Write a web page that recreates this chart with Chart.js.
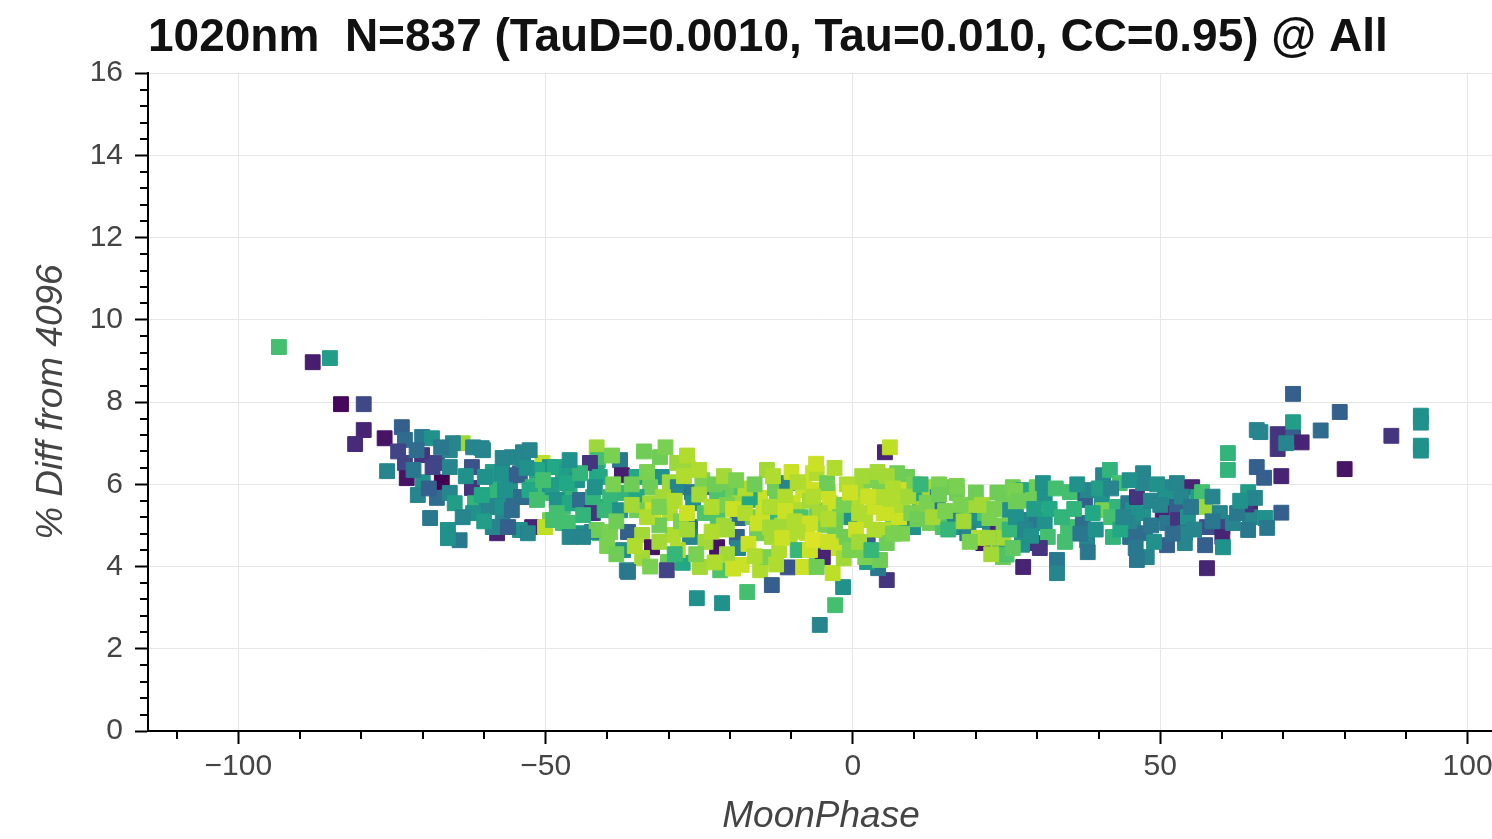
<!DOCTYPE html>
<html>
<head>
<meta charset="utf-8">
<title>1020nm MoonPhase scatter</title>
<script src="https://cdn.jsdelivr.net/npm/chart.js@4/dist/chart.umd.min.js"></script>
<style>
  html, body { margin: 0; padding: 0; background: #fff; overflow: hidden; }
  canvas { display: block; }
</style>
</head>
<body>
<canvas id="chart" width="1520" height="839"></canvas>
<script>
// values
const moonPhase = [
  -93.4, -87.9, -85.1, -83.3, -79.6, -79.6, -81.0, -76.2, -75.8, -73.4,
  -72.9, -70.1, -68.5, -70.1, -72.9, -72.6, -67.7, -65.6, -63.5, -61.8,
  -60.2, -62.0, -66.9, -70.0, -70.8, -67.7, -65.6, -64.8, -62.0, -61.5,
  -68.8, -65.9, -64.0, -65.9, -58.6, -57.9, -55.5, -53.7, -54.2, -55.8,
  -57.9, -57.0, -57.9, -57.9, -53.7, -52.6, -53.7, -52.2, -50.5, -49.3,
  -51.4, -50.4, -49.3, -47.2, -46.1, -44.9, -47.2, -49.3, -47.2, -44.9,
  -41.7, -41.5, -41.7, -37.9, -37.6, -37.4, -40.7, -41.2, -42.3, -37.4,
  -36.8, -65.6, -60.4, -58.6, -57.1, -54.7, -51.4, -48.5, -46.5, -44.9,
  -42.8, -57.9, -55.3, -52.6, -51.4, -49.0, -48.2, -46.1, -44.4, -42.3,
  -57.9, -58.6, -54.2, -50.1, -48.8, -46.4, -42.5, -42.5, -41.2, -35.2,
  -31.4, -31.1, -28.6, -26.9, -33.0, -29.8, -28.5, -26.2, -23.6, -20.0,
  -18.1, -14.0, -15.1, -12.7, -10.7, -8.1, -6.5, -42.0, -39.5, -35.2,
  -33.0, -30.9, -26.0, -22.1, -18.4, -16.8, -12.4, -9.8, -40.4, -37.9,
  -35.2, -32.5, -29.8, -26.5, -24.1, -22.0, -18.7, -16.3, -14.6, -12.2,
  -9.1, -5.9, -41.7, -39.5, -36.6, -34.3, -32.7, -29.3, -26.5, -22.1,
  -18.9, -18.7, -15.6, -13.2, -10.3, -7.5, -34.3, -30.1, -30.3, -27.7,
  -24.9, -21.6, -18.1, -15.1, -14.0, -10.6, -8.1, -5.9, -36.6, -25.4,
  -21.3, -17.2, -13.2, -5.4, -2.9, -1.6, -3.3, 5.5, 4.1, 2.3,
  -39.0, -36.0, -33.5, -27.5, -24.5, -22.5, -20.5, -17.5, -16.0, -11.0,
  -8.0, -7.0, -4.0, -3.5, -28.0, -31.5, -20.5, -11.5, -8.5, -4.5,
  -2.5, -24.0, -12.0, -9.0, 5.2, 6.0, -5.9, -5.9, -4.2, -3.7,
  -5.4, -2.1, -0.2, -5.4, -2.9, -2.6, -1.0, -4.9, -5.9, 2.0,
  3.3, 2.4, 2.0, 4.4, 4.4, 4.7, 7.2, 8.8, 8.8, 7.2,
  6.5, 8.8, 4.9, 5.5, 10.4, 10.9, 9.8, 12.5, 13.8, 13.7,
  12.5, 15.3, 16.9, 16.3, 14.6, 16.9, 18.6, 20.2, 18.6, 21.5,
  22.3, 21.2, 23.6, 23.9, 24.4, 25.5, 24.4, 26.0, 27.7, 28.3,
  27.7, 27.7, 29.9, 29.9, 0.5, 1.5, 3.0, 5.5, 6.5, 10.0,
  11.5, 14.0, 8.0, 0.5, 16.9, 16.6, 18.8, 22.2, 25.6, 26.4,
  25.0, 27.5, 28.7, 19.5, 20.5, 22.5, 24.5, 26.5, 30.9, 29.3,
  31.2, 29.9, 31.2, 31.7, 30.4, 33.2, 33.2, 35.3, 35.0, 37.8,
  38.2, 37.4, 38.1, 38.2, 40.7, 41.8, 40.5, 40.7, 43.0, 43.4,
  42.3, 44.8, 45.6, 46.2, 45.6, 45.1, 47.2, 47.2, 47.2, 47.5,
  47.8, 46.2, 50.8, 51.1, 50.4, 51.1, 51.1, 52.7, 52.7, 52.9,
  54.0, 54.0, 55.2, 56.1, 56.8, 57.3, 57.6, 57.3, 57.6, 59.7,
  60.1, 60.1, 60.2, 61.8, 61.0, 61.0, 64.6, 64.3, 64.6, 64.3,
  65.7, 65.7, 71.6, 79.2, 87.6, 92.4, 92.4, 92.4, 92.4, 80.0,
  76.1, 71.6, 71.6, 73.0, 69.1, 69.1, 66.3, 66.9, 69.7, 69.7,
  67.1, 67.4, 64.0, 65.4, 70.5,
  -65.1, -68.4, -71.0, -59.9, -56.6, -57.0, -53.7, -53.1, -59.6, -61.8,
  -60.4, -55.5, -56.1, -52.9, -46.1, -43.9, -48.2, -43.9, -50.4, -46.5,
  -44.4, -46.1, -52.6, -63.0, -63.5, -60.0, -69.0, -74.0, -71.5, -67.0,
  -39.2, -34.0, -30.5, -27.0, -25.0, -21.0, -19.0, -13.0, -10.0, -9.0,
  -6.0, -3.0, -38.5, -36.0, -33.5, -31.5, -29.0, -27.0, -25.0, -23.0,
  -21.0, -19.5, -17.5, -15.5, -13.5, -11.0, -9.5, -7.0, -6.5, -4.0,
  -1.5, -40.0, -38.5, -35.5, -31.5, -28.5, -27.0, -25.5, -23.0, -20.5,
  -17.0, -16.0, -13.5, -11.5, -9.0, -7.0, -6.5, -4.0, -1.5, -0.5,
  -33.0, -29.0, -22.5, -19.5, -12.5, 1.0, 2.5, 3.5, 4.0, 5.0,
  6.0, 6.5, 7.5, 8.0, 9.0, 9.5, 10.5, 11.0, 12.0, 13.0,
  14.0, 15.0, 15.5, 1.0, 3.0, 1.5, -1.0, -0.5, 17.5, 18.0,
  19.0, 20.0, 21.0, 22.0, 23.0, 23.5, 24.5, 25.5, 26.5, 27.0,
  28.0, 29.0, 29.5, 26.0, 32.0, 33.0, 34.0, 34.5, 36.0, 36.5,
  37.0, 39.0, 39.5, 40.0, 42.0, 42.0, 43.5, 44.0, 45.0, 46.0,
  48.5, 48.5, 49.0, 49.5, 50.0, 52.0, 53.5, 54.5, 55.0, 55.5,
  58.5, 58.5, 62.5, 63.0
];
const pctDiff = [
  9.34, 8.97, 9.07, 7.95, 7.95, 7.32, 6.98, 7.12, 6.32, 7.39,
  7.08, 7.15, 7.12, 6.71, 6.52, 6.15, 6.52, 6.83, 7.0, 6.9,
  6.83, 6.42, 6.05, 6.05, 5.74, 5.67, 5.79, 5.54, 5.91, 5.54,
  5.18, 4.89, 4.64, 4.69, 6.18, 5.93, 6.66, 6.78, 6.27, 5.93,
  5.54, 5.3, 4.96, 4.81, 5.69, 5.93, 4.89, 4.96, 6.52, 6.42,
  6.1, 5.79, 5.93, 6.1, 5.79, 5.54, 5.45, 5.13, 5.06, 4.81,
  6.9, 6.59, 6.27, 6.59, 6.22, 5.79, 5.45, 4.81, 5.3, 4.4,
  3.91, 6.42, 6.88, 6.3, 6.27, 6.22, 6.35, 6.42, 6.3, 6.1,
  6.52, 5.86, 5.69, 5.86, 5.62, 5.98, 5.62, 5.54, 5.62, 5.69,
  5.45, 4.96, 4.89, 4.96, 5.13, 5.06, 5.3, 4.84, 6.18, 6.18,
  6.66, 6.18, 6.52, 6.42, 5.93, 6.05, 5.93, 5.81, 5.93, 5.86,
  5.81, 6.35, 5.67, 5.91, 6.03, 5.86, 6.27, 5.93, 5.69, 5.69,
  5.54, 5.69, 5.54, 5.67, 5.54, 5.62, 5.54, 5.54, 5.37, 5.37,
  5.37, 5.37, 5.3, 4.96, 5.3, 5.2, 5.18, 5.2, 5.3, 5.2,
  5.37, 5.37, 4.89, 4.84, 4.84, 4.77, 4.47, 4.77, 4.72, 4.47,
  4.72, 4.45, 4.81, 4.72, 4.72, 4.81, 4.21, 4.11, 3.91, 4.09,
  3.99, 3.91, 4.04, 3.91, 4.23, 3.98, 3.99, 4.16, 3.87, 3.23,
  3.11, 3.38, 3.55, 2.58, 3.06, 3.5, 3.84, 3.67, 3.96, 4.11,
  6.0, 6.0, 6.3, 6.2, 6.1, 6.0, 5.5, 5.9, 6.0, 5.7,
  6.0, 5.6, 5.8, 5.4, 5.1, 5.0, 4.9, 5.0, 5.2, 5.0,
  4.6, 4.6, 4.4, 4.4, 6.78, 6.9, 6.27, 5.86, 6.03, 5.54,
  5.3, 5.2, 5.2, 4.57, 4.89, 4.45, 4.72, 4.23, 3.99, 5.13,
  5.45, 4.57, 4.23, 4.16, 5.86, 5.69, 6.27, 6.18, 5.86, 5.54,
  5.13, 5.06, 4.89, 4.57, 5.79, 5.62, 4.96, 5.93, 5.69, 5.37,
  5.06, 5.93, 5.79, 5.2, 4.96, 4.96, 5.37, 5.13, 4.81, 5.3,
  4.89, 4.57, 4.89, 4.47, 5.62, 5.37, 4.23, 5.93, 5.86, 5.13,
  4.64, 3.99, 4.57, 5.93, 5.6, 5.9, 6.1, 6.2, 5.9, 6.0,
  5.4, 6.0, 4.8, 4.9, 5.96, 5.1, 4.82, 5.18, 5.35, 5.84,
  4.29, 4.53, 5.1, 5.5, 4.7, 4.3, 5.0, 5.5, 6.03, 5.62,
  5.69, 5.13, 5.06, 4.72, 4.45, 4.16, 3.84, 5.81, 4.96, 5.62,
  5.86, 5.06, 4.64, 4.35, 6.22, 6.35, 5.62, 5.37, 5.45, 6.03,
  4.72, 5.54, 5.37, 5.69, 5.06, 4.72, 6.27, 6.03, 5.3, 4.81,
  4.23, 4.16, 5.93, 5.69, 5.3, 5.06, 4.52, 6.03, 5.45, 5.13,
  4.81, 4.57, 5.93, 5.69, 5.81, 5.45, 4.96, 4.52, 3.96, 5.3,
  4.96, 4.72, 4.47, 5.06, 6.76, 6.35, 5.54, 5.81, 5.2, 4.89,
  7.32, 6.42, 8.2, 7.76, 7.18, 7.67, 7.5, 6.94, 6.82, 6.37,
  7.31, 7.51, 7.14, 7.02, 7.22, 6.86, 7.27, 6.16, 6.2, 5.31,
  5.18, 4.94, 5.51, 5.67, 7.0,
  7.0, 6.42, 6.83, 6.18, 5.86, 6.64, 6.6, 6.4, 5.45, 5.3,
  5.74, 5.37, 4.96, 4.81, 4.72, 4.72, 5.3, 5.25, 6.1, 6.03,
  6.27, 6.59, 6.83, 6.2, 5.2, 5.1, 5.9, 6.8, 6.35, 6.9,
  6.7, 6.8, 6.9, 6.7, 6.35, 6.2, 6.1, 6.2, 6.3, 6.05,
  6.5, 6.4, 5.1, 5.5, 5.2, 5.45, 5.6, 5.3, 5.75, 5.45,
  5.0, 5.4, 5.3, 5.05, 5.45, 5.35, 5.1, 5.05, 5.7, 5.15,
  5.5, 4.5, 4.3, 4.5, 4.6, 4.4, 4.9, 4.3, 4.85, 4.3,
  4.55, 4.25, 4.95, 4.7, 4.85, 4.4, 4.65, 4.6, 4.2, 4.4,
  4.0, 4.3, 4.1, 3.95, 4.05, 5.3, 5.7, 4.9, 6.3, 5.3,
  5.65, 4.8, 5.2, 5.5, 5.7, 5.3, 5.15, 6.0, 5.55, 5.2,
  5.75, 5.35, 4.9, 4.6, 4.4, 6.2, 6.0, 5.8, 5.5, 5.1,
  4.6, 5.8, 5.5, 4.7, 5.4, 5.8, 4.7, 4.9, 5.2, 5.6,
  4.9, 4.75, 5.4, 4.45, 5.4, 5.9, 5.2, 4.6, 5.4, 6.0,
  4.8, 5.3, 4.9, 5.9, 5.2, 5.9, 4.9, 5.2, 6.1, 4.45,
  5.6, 5.0, 4.6, 6.0, 5.5, 4.8, 5.7, 5.2, 5.45, 4.9,
  5.7, 5.1, 5.3, 5.6
];
// colour value of each point (0 = dark purple .. 1 = yellow)
const colorLevel = [
  .7, .08, .55, .02, .22, .1, .12, .05, .45, .3,
  .35, .4, .5, .15, .2, .05, .2, .45, .85, .45,
  .45, .25, 0, .5, .45, .35, .45, .55, .15, .65,
  .4, .5, .4, .5, .6, .55, .45, .45, .3, .5,
  .45, .45, .4, .1, .35, .65, .5, .1, .9, .5,
  .65, .7, .5, .6, .65, .35, .7, .8, .7, .5,
  .85, .7, .6, .4, .08, .65, .6, .7, .4, .5,
  .45, .45, .45, .55, .5, .3, .6, .6, .55, .5,
  .15, .65, .35, .6, .7, .55, .5, .6, .35, .65,
  .5, .45, .5, .9, .7, .7, .15, .45, .6, .6,
  .78, .5, .85, .85, .78, .85, .45, .4, .3, .78,
  .72, .86, .92, .78, .45, .92, .92, .5, .66, .6,
  .86, .86, .5, .72, .86, .6, .78, .92, .66, .5,
  .78, .92, .88, .35, .72, .72, .35, .78, .92, .66,
  .88, .78, .78, .8, .3, .86, .05, .88, .45, .05,
  .3, .45, .78, .86, .88, .92, .86, .78, .2, .6,
  .86, .72, .92, .88, .8, .25, .92, .78, .4, .5,
  .5, .7, .3, .45, .7, .5, .9, .15, .4, .55,
  .8, .78, .8, .88, .8, .78, .8, .88, .78, .88,
  .92, .86, .92, .88, .8, .78, .86, .86, .72, .8,
  .88, .86, .88, .66, .1, .9, .88, .92, .78, .92,
  .86, .78, .5, .5, .78, .92, .78, .1, .78, .88,
  .92, .3, .8, .78, .8, .88, .78, .78, .92, .92,
  .78, .6, .88, .78, .78, .6, .5, .86, .4, .35,
  .78, .78, .78, .4, .72, .5, .78, .5, .4, .72,
  .45, .05, .1, .5, .78, .45, .78, .78, .6, .35,
  .5, .1, .15, .78, .88, .86, .8, .86, .88, .8,
  .86, .8, .8, .92, .8, .45, .45, .8, .5, .8,
  .72, .5, .45, .86, .88, .86, .8, .78, .5, .78,
  .5, .4, .5, .7, .15, .4, .45, .7, .7, .3,
  .45, .35, .45, .4, .45, .65, .5, .8, .65, .7,
  .65, .4, .5, .15, .45, .35, .45, .45, .5, .35,
  .45, .4, .45, .5, .1, .4, .3, .45, .3, .15,
  .45, .45, .1, .55, .7, .85, .25, .3, .1, .45,
  .2, .1, .5, .45, .65, .65, .1, .55, .45, .4,
  .45, .3, .3, .3, .15, .5, .5, .5, .5, .05,
  .35, .55, .3, .1, .15, .15, .45, .3, .1, .3,
  .5, .4, .15, .45, .45,
  .45, .2, .35, .5, .5, .45, .45, .5, .45, .5,
  .6, .35, .3, .45, .45, .45, .7, .65, .7, .6,
  .65, .5, .45, .5, .45, .55, .3, .2, .4, .4,
  .8, .78, .8, .88, .88, .86, .8, .88, .92, .88,
  .92, .88, .78, .86, .88, .8, .88, .92, .86, .88,
  .86, .92, .88, .92, .88, .92, .88, .92, .88, .88,
  .8, .8, .78, .88, .86, .88, .86, .8, .88, .86,
  .92, .88, .86, .92, .88, .92, .95, .92, .86, .8,
  .8, .66, .88, .92, .88, .88, .92, .88, .86, .92,
  .88, .8, .92, .88, .86, .8, .78, .66, .8, .86,
  .78, .8, .66, .86, .66, .86, .88, .92, .8, .86,
  .8, .78, .86, .86, .8, .78, .86, .66, .5, .78,
  .45, .5, .55, .75, .6, .7, .65, .7, .65, .5,
  .4, .6, .5, .55, .7, .45, .6, .45, .5, .4,
  .45, .4, .5, .5, .45, .35, .45, .5, .4, .45,
  .45, .4, .4, .5
];

const xTicks = [-100, -50, 0, 50, 100];
const yTicks = [0, 2, 4, 6, 8, 10, 12, 14, 16];
const titleText = '1020nm  N=837 (TauD=0.0010, Tau=0.010, CC=0.95) @ All';

const FONT = "'Liberation Sans', Arial, Helvetica, sans-serif";

// viridis colour map
const viridisStops = ['#440154', '#482475', '#414487', '#355f8d', '#2a788e',
  '#21918c', '#22a884', '#44bf70', '#7ad151', '#bddf26', '#fde725'];
function viridis(t) {
  t = Math.max(0, Math.min(1, t));
  const f = t * (viridisStops.length - 1);
  const i = Math.min(Math.floor(f), viridisStops.length - 2);
  const k = f - i;
  const a = viridisStops[i], b = viridisStops[i + 1];
  const ch = (h, o) => parseInt(h.substr(o, 2), 16);
  const mix = o => Math.round(ch(a, o) + (ch(b, o) - ch(a, o)) * k);
  return `rgb(${mix(1)},${mix(3)},${mix(5)})`;
}

const points = moonPhase.map((x, i) => ({ x: x, y: pctDiff[i] }));
const colors = colorLevel.map(viridis);

// minor ticks: 5 intervals per major step
function minorsFrom(majors, lo, hi) {
  const out = [];
  const step = (majors[1] - majors[0]) / 5;
  for (let v = majors[0] - 5 * step; v <= majors[majors.length - 1] + 5 * step + 1e-9; v += step) {
    const r = Math.round(v * 1000) / 1000;
    if (r < lo || r > hi) continue;
    if (majors.some(m => Math.abs(m - r) < 1e-6)) continue;
    out.push(r);
  }
  return out;
}

const X_MIN = -114.7, X_MAX = 104.3;
const xMinor = minorsFrom(xTicks, X_MIN, X_MAX);
const yMinor = minorsFrom(yTicks, 0, 16);

const minorTicks = {
  id: 'minorTicks',
  afterDraw(chart) {
    const { ctx, chartArea, scales: { x, y } } = chart;
    ctx.save();
    ctx.strokeStyle = '#000';
    ctx.lineWidth = 2;
    ctx.beginPath();
    xMinor.forEach(v => {
      const px = Math.round(x.getPixelForValue(v));
      ctx.moveTo(px, chartArea.bottom);
      ctx.lineTo(px, chartArea.bottom + 8);
    });
    yMinor.forEach(v => {
      const py = Math.round(y.getPixelForValue(v));
      ctx.moveTo(chartArea.left, py);
      ctx.lineTo(chartArea.left - 8, py);
    });
    ctx.stroke();
    ctx.restore();
  }
};

const fmt = v => (v < 0 ? '\u2212' + Math.abs(v) : String(v));

new Chart(document.getElementById('chart').getContext('2d'), {
  type: 'scatter',
  data: {
    datasets: [{
      data: points,
      pointStyle: 'rect',
      pointRadius: 10.5,
      pointHoverRadius: 10.5,
      pointBackgroundColor: colors,
      pointBorderColor: colors,
      pointBorderWidth: 1
    }]
  },
  options: {
    responsive: false,
    animation: false,
    devicePixelRatio: 1,
    layout: { padding: { left: 0, top: 0, right: 26, bottom: 0 } },
    plugins: {
      legend: { display: false },
      tooltip: { enabled: false },
      title: {
        display: true,
        text: titleText,
        align: 'start',
        fullSize: false,
        color: '#111',
        font: { family: FONT, size: 46, weight: 'bold' },
        padding: { top: 11, bottom: 7 }
      }
    },
    scales: {
      x: {
        type: 'linear',
        min: X_MIN,
        max: X_MAX,
        afterBuildTicks: s => { s.ticks = xTicks.map(v => ({ value: v })); },
        afterFit: s => { s.height = 108; },
        ticks: {
          callback: fmt, color: '#444', padding: 5, maxRotation: 0, autoSkip: false,
          font: { family: FONT, size: 30 }
        },
        grid: { color: '#e6e6e6', lineWidth: 1, tickColor: '#000', tickWidth: 2, tickLength: 13 },
        border: { color: '#000', width: 2 },
        title: {
          display: true, text: 'MoonPhase', color: '#444', padding: 0,
          font: { family: FONT, size: 37, style: 'italic' }
        }
      },
      y: {
        type: 'linear',
        min: 0,
        max: 16,
        afterBuildTicks: s => { s.ticks = yTicks.map(v => ({ value: v })); },
        afterFit: s => { s.width = 148; },
        ticks: {
          callback: fmt, color: '#444', padding: 12,
          font: { family: FONT, size: 30 }
        },
        grid: { color: '#e6e6e6', lineWidth: 1, tickColor: '#000', tickWidth: 2, tickLength: 13 },
        border: { color: '#000', width: 2 },
        title: {
          display: true, text: '% Diff from 4096', color: '#444',
          padding: { top: 30, bottom: 0 },
          font: { family: FONT, size: 37, style: 'italic' }
        }
      }
    }
  },
  plugins: [minorTicks]
});
</script>
</body>
</html>
